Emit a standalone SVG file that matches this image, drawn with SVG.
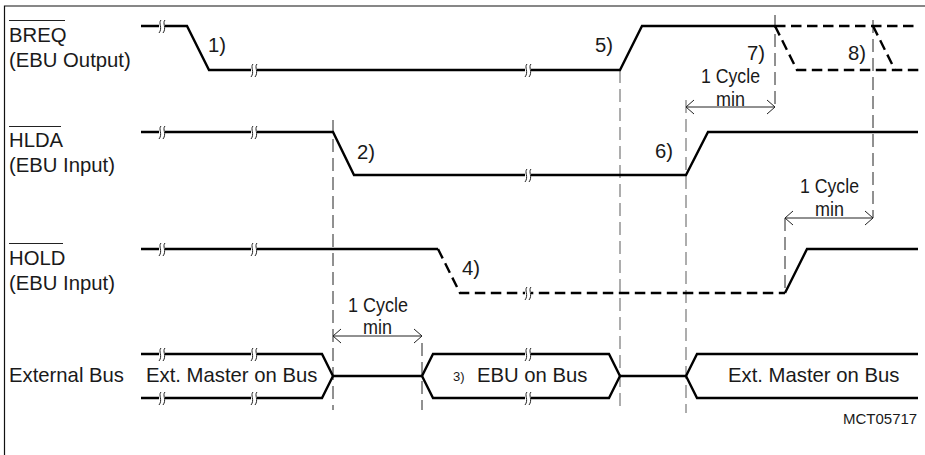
<svg xmlns="http://www.w3.org/2000/svg" width="925" height="455" viewBox="0 0 925 455">
<style>
text{font-family:"Liberation Sans",Arial,sans-serif;font-size:20.300px;fill:#1a1a1a}
.sig{fill:none;stroke:#000;stroke-width:2.400;stroke-linejoin:miter}
.dash{stroke-dasharray:10.500 5.500}
.v{fill:none;stroke:#222;stroke-width:1;stroke-dasharray:13 6}
.g{stroke:#777;stroke-width:1.200}
.dim{fill:none;stroke:#222;stroke-width:1}
.ol{fill:none;stroke:#222;stroke-width:1}
.brk{fill:none;stroke:#222;stroke-width:1}
</style>
<defs>
<g id="b"><rect x="-3" y="-3" width="6" height="6" fill="#fff"/><path class="brk" d="M-1 -6C-4 -3 1 2 -3 7M3 -6C0 -3 5 2 1 7"/></g>
<path id="al" class="dim" d="M8 -7L0 0L8 7"/>
<path id="ar" class="dim" d="M-8 -7L0 0L-8 7"/>
</defs>
<path id="frame" d="M4.500 455V6H925" fill="none" stroke="#111" stroke-width="1.200"/>
<g id="connectors">
<path class="v" d="M333 120V410M422 343V410M775 15V108M873 20V218M785 218V293"/>
<path class="v g" d="M620 70V407M686 100V413"/>
<path class="dim" d="M686 107H775M785 218H873M333 336H422"/>
<use href="#al" x="686" y="107"/><use href="#ar" x="775" y="107"/>
<use href="#al" x="785" y="218"/><use href="#ar" x="873" y="218"/>
<use href="#al" x="333" y="336"/><use href="#ar" x="422" y="336"/>
</g>
<g id="breq">
<path class="sig" d="M141 26H187L209 70H620L642 26H775"/>
<path class="sig dash" d="M775 26H919M775 26L797 70H919M873 26L895 70"/>
<use href="#b" x="162" y="26"/><use href="#b" x="254" y="70"/><use href="#b" x="528" y="70"/>
<text x="9" y="41.500">BREQ</text><path class="ol" d="M9 20.500H65"/>
<text x="9" y="67">(EBU Output)</text>
<text x="208" y="52">1)</text><text x="595" y="52">5)</text><text x="747" y="60">7)</text><text x="848" y="60">8)</text>
<text x="701" y="83" textLength="59" lengthAdjust="spacingAndGlyphs">1 Cycle</text><text x="716" y="106" textLength="29" lengthAdjust="spacingAndGlyphs">min</text>
</g>
<g id="hlda">
<path class="sig" d="M141 132H333L354 175H686L708 132H918"/>
<use href="#b" x="162" y="132"/><use href="#b" x="254" y="132"/><use href="#b" x="528" y="175"/>
<text x="9" y="147">HLDA</text><path class="ol" d="M9 126.500H61"/>
<text x="9" y="172">(EBU Input)</text>
<text x="357" y="159">2)</text><text x="655" y="158">6)</text>
<text x="800" y="193" textLength="59" lengthAdjust="spacingAndGlyphs">1 Cycle</text><text x="815" y="216" textLength="29" lengthAdjust="spacingAndGlyphs">min</text>
</g>
<g id="hold">
<path class="sig" d="M141 249H438"/>
<path class="sig dash" d="M438 249L460 293H785"/>
<path class="sig" d="M785 293L807 249H918"/>
<use href="#b" x="162" y="249"/><use href="#b" x="254" y="249"/><use href="#b" x="528" y="293"/>
<text x="9" y="265">HOLD</text><path class="ol" d="M9 243.500H63"/>
<text x="9" y="290">(EBU Input)</text>
<text x="462" y="275">4)</text>
</g>
<g id="bus">
<path class="sig" d="M141 354H322L333 376H422L433 354H609L620 376H686L697 354H918"/>
<path class="sig" d="M141 398H322L333 376M422 376L433 398H609L620 376M686 376L697 398H918"/>
<use href="#b" x="162" y="354"/><use href="#b" x="254" y="354"/><use href="#b" x="528" y="354"/>
<use href="#b" x="162" y="398"/><use href="#b" x="254" y="398"/><use href="#b" x="528" y="398"/>
<text x="9" y="382">External Bus</text>
<text x="146" y="382">Ext. Master on Bus</text>
<text x="453" y="381" style="font-size:13px">3)</text>
<text x="477" y="382">EBU on Bus</text>
<text x="728" y="382">Ext. Master on Bus</text>
<text x="348" y="312" textLength="60" lengthAdjust="spacingAndGlyphs">1 Cycle</text><text x="363" y="334" textLength="29" lengthAdjust="spacingAndGlyphs">min</text>
<text x="843" y="424" style="font-size:15px">MCT05717</text>
</g>
</svg>
